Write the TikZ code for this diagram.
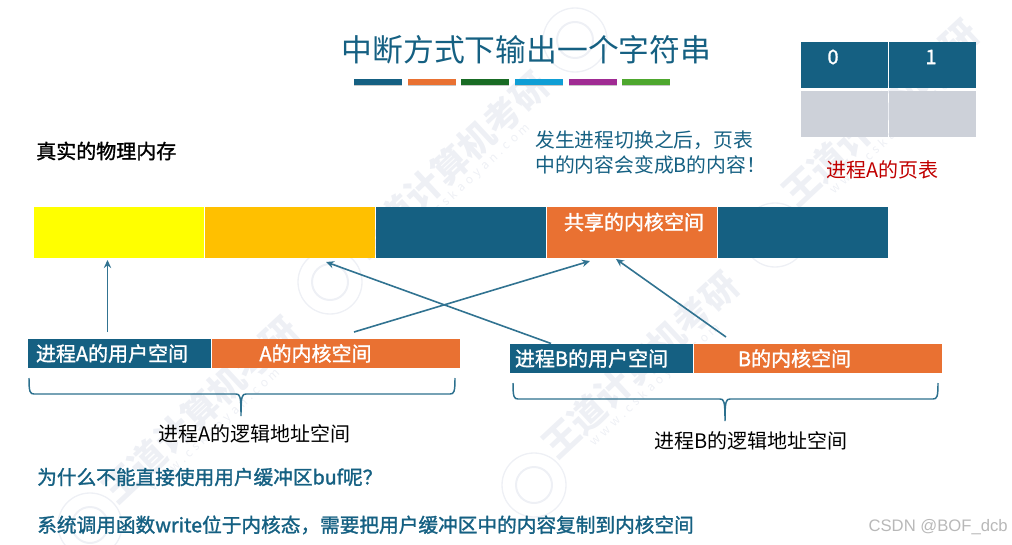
\documentclass[tikz,border=0pt]{standalone}
\usepackage{fontspec}
\setmainfont{Noto Sans CJK SC}
\newfontfamily\latinfont{Liberation Sans}
\newfontfamily\medfont[FakeBold=1.4]{Noto Sans CJK SC}
\usetikzlibrary{arrows.meta, positioning, calc}
\definecolor{deepblue}{RGB}{21,96,130}
\definecolor{softorange}{RGB}{233,113,50}
\definecolor{softyellow}{RGB}{255,255,0}
\definecolor{softgold}{RGB}{255,192,0}
\definecolor{softgrey}{RGB}{205,209,217}
\definecolor{softred}{RGB}{192,0,0}
\definecolor{markgrey}{RGB}{238,240,245}
\definecolor{dash1}{RGB}{21,96,130}
\definecolor{dash2}{RGB}{233,113,50}
\definecolor{dash3}{RGB}{25,107,36}
\definecolor{dash4}{RGB}{15,158,213}
\definecolor{dash5}{RGB}{160,43,147}
\definecolor{dash6}{RGB}{78,167,46}
\tikzset{
  barcell/.style={minimum width=127.5pt, minimum height=38.25pt, inner sep=0pt, outer sep=0pt},
  tablecell/.style={minimum width=65.25pt, minimum height=34.5pt, inner sep=0pt, outer sep=0pt},
  usercell/.style={fill=deepblue, minimum width=137.25pt, minimum height=22pt, inner sep=0pt, outer sep=0pt},
  kernelcell/.style={fill=softorange, minimum width=186pt, minimum height=22pt, inner sep=0pt, outer sep=0pt},
  celltext/.style={text=white, font=\medfont\fontsize{15}{15}\selectfont, inner sep=0pt},
  plaintext/.style={anchor=west, inner sep=0pt, font=\fontsize{15}{15}\selectfont},
  bluetext/.style={plaintext, text=deepblue},
  link/.style={draw=deepblue!88, line width=1.2pt, -{Stealth[length=6pt, width=5.5pt]}},
  braceline/.style={draw=deepblue!90, line width=1.1pt},
}
% curly bracket under an address space: left, tip, right, top
\newcommand{\spacebrace}[4]{
  \draw[braceline] (#1,#4) .. controls (#1,#4+14) and (#1+1,#4+16) .. (#1+5,#4+16)
    -- (#2-5,#4+16) .. controls (#2-1,#4+16) and (#2,#4+18) .. (#2,#4+38)
    .. controls (#2,#4+18) and (#2+1,#4+16) .. (#2+5,#4+16)
    -- (#3-5,#4+16) .. controls (#3-1,#4+16) and (#3,#4+14) .. (#3,#4);
}
\begin{document}
\begin{tikzpicture}[x=0.75pt, y=-0.75pt]
  \useasboundingbox (0,0) rectangle (1012,545);
  % watermark
  \foreach \mx/\my in {450/165, 200/410, 640/365, 880/113}
    \node[text=markgrey, rotate=43, inner sep=0pt, font=\fontsize{27}{27}\selectfont\bfseries] at (\mx,\my) {王道计算机考研};
  \foreach \mx/\my in {465/185, 215/430, 655/385, 895/133}
    \node[text=markgrey, rotate=43, inner sep=0pt, font=\fontsize{9}{9}\selectfont] at (\mx,\my) {w\,\,w\,\,w\,\,.\,\,c\,\,s\,\,k\,\,a\,\,o\,\,y\,\,a\,\,n\,\,.\,\,c\,\,o\,\,m};
  \foreach \mx/\my in {575/40, 330/282, 534/485, 775/235, 90/525} {
    \draw[markgrey, line width=1pt] (\mx,\my) circle (32);
    \draw[markgrey, line width=1.5pt] (\mx,\my) circle (18);
  }

  % title
  \node[text=deepblue, inner sep=0pt, font=\fontsize{23.1}{23.1}\selectfont] (title) at (526.5,50) {中断方式下输出一个字符串};
  \foreach \dx [count=\di] in {354,407.5,461,515,568.5,622} {
    \fill[black!22] (\dx,80.5) rectangle (\dx+48,86.5);
    \fill[dash\di] (\dx,79) rectangle (\dx+48,85);
  }

  % page table
  \node[tablecell, fill=deepblue, anchor=north west] (page0) at (801,42) {};
  \node[tablecell, fill=deepblue, right=0.75pt of page0] (page1) {};
  \node[tablecell, fill=softgrey, below=2.25pt of page0] (page2) {};
  \node[tablecell, fill=softgrey, below=2.25pt of page1] (page3) {};
  \node[celltext] (zero) at (833,57) {0};
  \node[celltext] (one) at (931,57) {1};
  \node[plaintext, text=softred] (tablename) at (826,170) {进程A的页表};

  % physical memory
  \node[plaintext, font=\medfont\fontsize{15}{15}\selectfont] (memname) at (36,151) {真实的物理内存};
  \node[bluetext, align=left, font=\fontsize{14.85}{18.75}\selectfont] (note) at (535,152.5) {发生进程切换之后，页表\\中的内容会变成B的内容！};
  \node[barcell, fill=softyellow, anchor=north west] (cellyellow) at (34,207) {};
  \node[barcell, fill=softgold, right=0.75pt of cellyellow] (cellgold) {};
  \node[barcell, fill=deepblue, right=0.75pt of cellgold] (cellblue) {};
  \node[barcell, fill=softorange, right=0.75pt of cellblue] (shared) {};
  \node[barcell, fill=deepblue, right=0.75pt of shared] (celllast) {};
  \node[celltext] (sharedname) at (634,222) {共享的内核空间};

  % process A and process B
  \node[usercell, anchor=north west] (userA) at (28,339) {};
  \node[kernelcell, right=0.75pt of userA] (kernelA) {};
  \node[usercell, anchor=north west] (userB) at (510,343.5) {};
  \node[kernelcell, right=0.75pt of userB] (kernelB) {};
  \node[celltext] (userAname) at (112,353.5) {进程A的用户空间};
  \node[celltext] (kernelAname) at (315.5,353.5) {A的内核空间};
  \node[celltext] (userBname) at (591.5,358.5) {进程B的用户空间};
  \node[celltext] (kernelBname) at (794.5,358.5) {B的内核空间};

  \draw[link] ($(userA.north west)+(79.5,-7)$) -- ($(cellyellow.south west)+(73.5,2)$);
  \draw[link] ($(kernelA.north west)+(142,-7)$) -- ($(shared.south west)+(43,3)$);
  \draw[link] ($(userB.north west)+(41,0)$) -- ($(cellgold.south west)+(121,4)$);
  \draw[link] ($(kernelB.north west)+(32,-6.5)$) -- ($(shared.south west)+(69,1)$);

  \spacebrace{29}{241}{455}{378}
  \spacebrace{513}{725}{938}{383}
  \node[plaintext] (spaceA) at (158,434) {进程A的逻辑地址空间};
  \node[plaintext] (spaceB) at (654,441) {进程B的逻辑地址空间};

  % bottom lines
  \node[bluetext, font=\medfont\fontsize{14.75}{15}\selectfont] (question) at (37,477) {为什么不能直接使用用户缓冲区buf呢？};
  \node[bluetext, font=\medfont\fontsize{14.75}{15}\selectfont] (answer) at (37,525) {系统调用函数write位于内核态，需要把用户缓冲区中的内容复制到内核空间};
  \node[anchor=east, inner sep=0pt, text=black!28, font=\latinfont\fontsize{12.5}{12.5}\selectfont] (mark) at (1008,527) {CSDN @BOF\_dcb};
\end{tikzpicture}
\end{document}
